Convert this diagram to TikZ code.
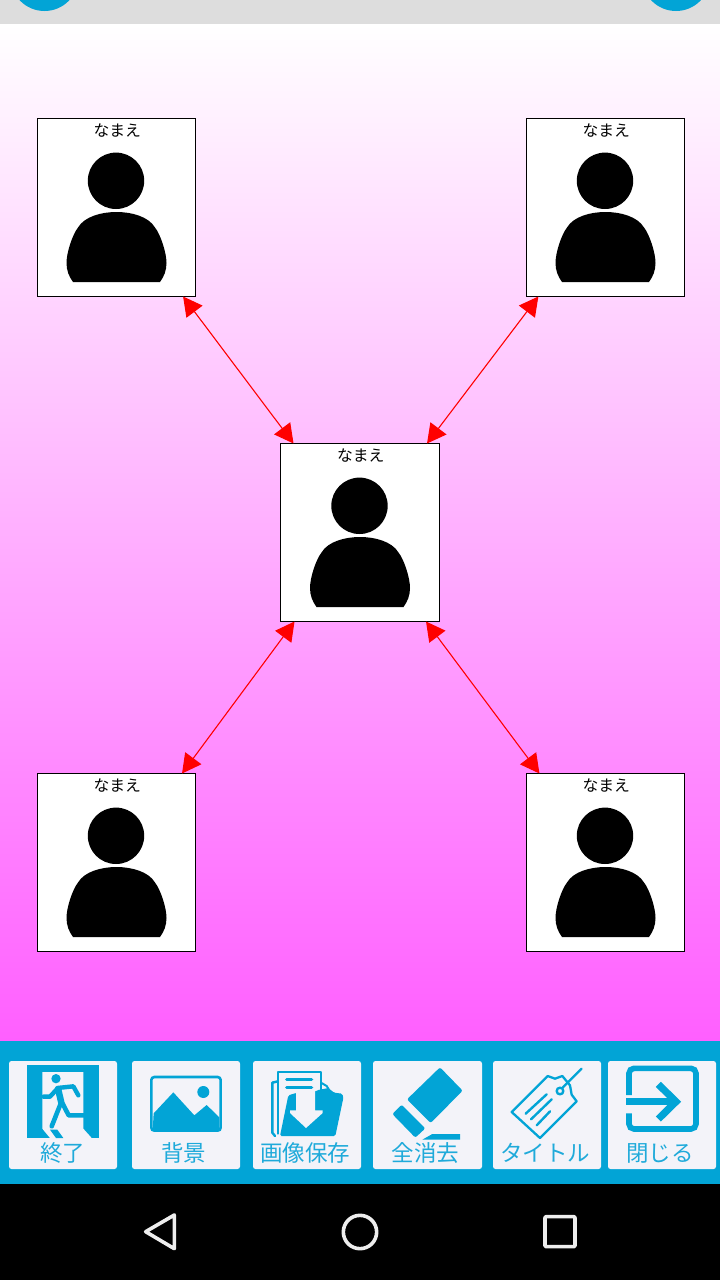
\documentclass[tikz,border=0pt]{standalone}
\usepackage{fontspec}
\newfontfamily\jpfont{Noto Sans CJK JP}
\usetikzlibrary{arrows.meta}
\definecolor{barblue}{HTML}{02A4D6}
\definecolor{btnface}{HTML}{F3F3F9}
\definecolor{labelblue}{HTML}{1FAADA}
\definecolor{topgray}{HTML}{DDDDDD}
\definecolor{navgray}{HTML}{EEEEEE}
\definecolor{bgend}{HTML}{FF5FFF}
\tikzset{
  x=1pt,y=-1pt,
  card/.style={draw=black,line width=1pt,fill=white,minimum width=158pt,minimum height=178pt,inner sep=0pt,outer sep=0pt},
  cardlabel/.style={font=\jpfont\fontsize{15.8}{15.8}\selectfont,text=black,inner sep=0pt},
  link/.style={red,line width=1.1pt,{Triangle[length=19pt,width=20pt]}-{Triangle[length=19pt,width=20pt]}},
  btn/.style={fill=btnface,rounded corners=2.5pt,draw=none},
  btnlabel/.style={font=\jpfont\fontsize{22.5}{22.5}\selectfont,text=labelblue,inner sep=0pt},
  iconfill/.style={fill=barblue,draw=none},
  iconline/.style={draw=barblue,line width=#1,line cap=round,line join=round},
  nav/.style={draw=navgray,line width=3.6pt,line join=round},
  personpic/.pic={
    \fill[black] (-0.5,-26.7) circle[radius=28.2];
    \fill[black] (-43.5,74.5) .. controls (-47.5,69) and (-50,63) .. (-50,55.5)
      .. controls (-50,45) and (-44,27) .. (-38.5,20)
      .. controls (-32,9) and (-15,4.5) .. (0,4.5)
      .. controls (15,4.5) and (32,9) .. (38.5,20)
      .. controls (44,27) and (50,45) .. (50,55.5)
      .. controls (50,63) and (47.5,69) .. (43.5,74.5) -- cycle;
  }
}
\begin{document}
\begin{tikzpicture}
\useasboundingbox (0,0) rectangle (720,1280);
% backgrounds
\fill[top color=white,bottom color=bgend,middle color=bgend!50!white,shading angle=0] (0,24) rectangle (720,1041);
\fill[topgray] (0,0) rectangle (720,24);
\begin{scope}
  \clip (0,0) rectangle (720,24);
  \fill[barblue] (44.5,-23) circle[radius=34];
  \fill[barblue] (676,-23) circle[radius=34];
\end{scope}
\fill[barblue] (0,1041) rectangle (720,1184);
\fill[black] (0,1184) rectangle (720,1280);

% cards
\node[card] (tl) at (116.5,207.5) {};
\node[card] (tr) at (605.5,207.5) {};
\node[card,minimum width=159pt] (cc) at (360,532.5) {};
\node[card] (bl) at (116.5,862.5) {};
\node[card] (br) at (605.5,862.5) {};
\foreach \c/\lab in {tl/a,tr/b,cc/c,bl/d,br/e}{
  \pic at (\c.center) {personpic};
  \node[cardlabel] (lab\lab) at ([xshift=0.8pt,yshift=77pt]\c.center) {なまえ};
}
% connectors
\draw[link] (tl) -- (cc);
\draw[link] (tr) -- (cc);
\draw[link] (bl) -- (cc);
\draw[link] (br) -- (cc);

% buttons
\fill[btn] (9,1061) rectangle (117,1169);
\fill[btn] (132,1061) rectangle (240,1169);
\fill[btn] (253,1061) rectangle (361,1169);
\fill[btn] (373,1061) rectangle (482,1169);
\fill[btn] (493,1061) rectangle (601,1169);
\fill[btn] (608,1061) rectangle (716,1169);
\node[btnlabel] (l1) at (62.5,1153) {終了};
\node[btnlabel] (l2) at (183.5,1153) {背景};
\node[btnlabel] (l3) at (305,1153) {画像保存};
\node[btnlabel] (l4) at (425.5,1153) {全消去};
\node[btnlabel] (l5) at (545,1153) {タイトル};
\node[btnlabel] (l6) at (660,1153) {閉じる};

% exit icon
\begin{scope}[shift={(20,1062)},scale=1/3]
  \fill[barblue] (20,10) rectangle (237,228);
  \fill[btnface] (67,30) -- (190,30) -- (190,200) -- (215,228) -- (90,228) -- (67,200) -- cycle;
  \fill[barblue] (108,50) circle[radius=14];
  \draw[iconline=6.5pt] (115,84) -- (124,122);
  \draw[iconline=4.4pt] (112,80) -- (90,104) -- (70,104);
  \draw[iconline=4.4pt] (112,78) -- (160,73) -- (175,100);
  \draw[iconline=4.6pt] (122,125) -- (95,193);
  \draw[iconline=4.6pt] (128,125) -- (146,160) -- (198,160) -- (206,170);
  \fill[barblue] (90,203) -- (112,203) -- (130,228) -- (108,228) -- cycle;
\end{scope}

% picture icon
\begin{scope}[shift={(0,1040)},scale=1/3]
  \draw[draw=barblue,line width=2.6pt,rounded corners=3pt] (454,111) rectangle (662,272);
  \fill[barblue] (461,220) -- (520,157) -- (583,226) -- (620,195) -- (658,232) -- (658,272) -- (458,272) -- cycle;
  \fill[barblue] (610,156) circle[radius=18];
\end{scope}

% save icon
\begin{scope}[shift={(260,1062)},scale=1/3]
  \draw[iconline=2.4pt] (37,62) -- (37,212) -- (45,222);
  \draw[iconline=2.4pt] (37,62) -- (53,58);
  \draw[iconline=2.2pt] (55,215) -- (55,30) -- (183,30) -- (183,85);
  \draw[iconline=3.2pt] (80,52) -- (155,52);
  \draw[iconline=3.2pt] (80,76) -- (155,76);
  \draw[iconline=2pt] (183,62) -- (200,72) -- (208,85);
  \fill[barblue,rounded corners=1.5pt] (60,222) -- (85,100) -- (108,93) -- (165,90) -- (170,85) -- (205,78) -- (222,92) -- (247,95) -- (250,108) -- (226,222) -- cycle;
  \fill[btnface] (108,85) -- (165,85) -- (165,145) -- (188,145) -- (188,153) -- (138,198) -- (90,153) -- (90,145) -- (108,145) -- cycle;
\end{scope}

% eraser icon
\begin{scope}[shift={(360,1040)},scale=1/3]
  \fill[barblue,rounded corners=2pt] (240,82) -- (308,152) -- (212,249) -- (141,178) -- cycle;
  \fill[barblue,rounded corners=2pt] (125,194) -- (196,265) -- (166,293) -- (97,222) -- cycle;
  \fill[barblue] (217,282) -- (300,282) -- (300,299) -- (187,299) -- cycle;
\end{scope}

% tag icon
\begin{scope}[shift={(505,1062)},scale=1/3]
  \draw[iconline=2.3pt] (20,150) -- (128,42) -- (150,50) -- (172,42) -- (195,70) -- (200,98) -- (215,118) -- (105,228) -- cycle;
  \draw[iconline=2.4pt] (165,87) circle[radius=10];
  \draw[iconline=2.3pt] (230,20) -- (172,78);
  \draw[iconline=2.4pt] (62,155) -- (125,97);
  \draw[iconline=2.4pt] (78,172) -- (140,112);
  \draw[iconline=2.4pt] (95,190) -- (135,148);
\end{scope}

% close icon
\begin{scope}[shift={(360,1040)},scale=1/3]
  \draw[draw=barblue,line width=5.6pt,rounded corners=5pt] (807,165) -- (807,85) -- (1008,85) -- (1008,267) -- (807,267) -- (807,220);
  \draw[draw=barblue,line width=6.5pt] (799,185) -- (945,185);
  \draw[draw=barblue,line width=7.2pt] (895,133) -- (948,185) -- (895,237);
\end{scope}

% navigation bar
\begin{scope}[shift={(120,1190)},scale=1/3]
  \draw[nav] (77,125) -- (163,75) -- (163,176) -- cycle;
  \draw[nav] (720,126) circle[radius=50];
  \draw[nav,rounded corners=1pt] (1275,80) rectangle (1365,170);
\end{scope}
\end{tikzpicture}
\end{document}
